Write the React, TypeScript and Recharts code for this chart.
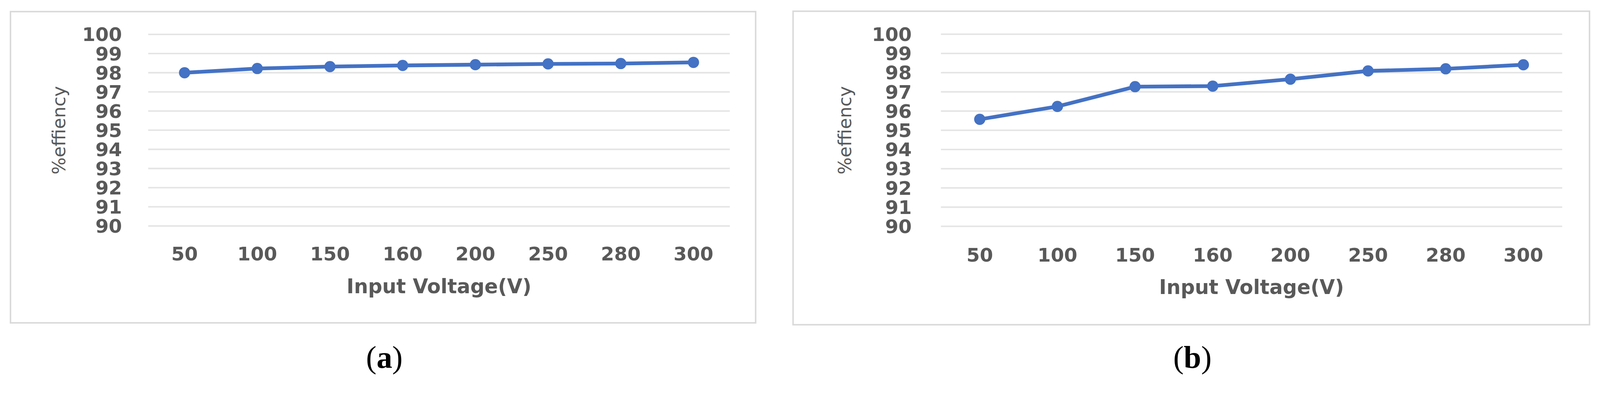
import { CartesianGrid, Line, LineChart, XAxis, YAxis } from "recharts";

const voltages = ["50", "100", "150", "160", "200", "250", "280", "300"];
const effA = [98.0, 98.22, 98.32, 98.38, 98.42, 98.46, 98.48, 98.54];
const effB = [95.57, 96.24, 97.27, 97.3, 97.66, 98.09, 98.2, 98.41];
const yTicks = [90, 91, 92, 93, 94, 95, 96, 97, 98, 99, 100];

const GREY = "#595959";
const BLUE = "#4472c4";

// the page is laid out in 4275px-wide figure coordinates, then fitted to the viewport
const FIG_W = 4275;
const FIG_H = 1027;

interface IPanel {
    left: number;
    top: number;
    width: number;
    height: number;
    plotLeft: number;
    plotRight: number;
    plotTop: number;
    plotBottom: number;
    yTickGap: number;
    xTickGap: number;
    yLabelX: number;
    titleOffset: number;
}

function EffPanel({values, p}: {values: number[]; p: IPanel}) {
    const data = voltages.map((v, i) => ({v, eff: values[i]}));
    const plotW = p.width - p.plotLeft - p.plotRight;
    const pad = plotW / voltages.length / 2;

    return (
        <div style={{position: "absolute", left: p.left, top: p.top, width: p.width, height: p.height}}>
            <LineChart
                width={p.width}
                height={p.height}
                data={data}
                margin={{top: p.plotTop, right: p.plotRight, left: 0, bottom: 0}}
            >
                <CartesianGrid vertical={false} stroke="#e4e4e4" strokeWidth={4} />
                <XAxis
                    dataKey="v"
                    type="category"
                    interval={0}
                    padding={{left: pad, right: pad}}
                    height={p.height - p.plotBottom}
                    axisLine={false}
                    tickLine={false}
                    tickSize={0}
                    tickMargin={p.xTickGap}
                    tick={{fill: GREY, fontSize: 51, fontWeight: "bold", fontFamily: "DejaVu Sans"}}
                    label={{
                        value: "Input Voltage(V)",
                        position: "insideBottom",
                        offset: p.titleOffset,
                        style: {fill: GREY, fontSize: 53, fontWeight: "bold", fontFamily: "DejaVu Sans"},
                    }}
                />
                <YAxis
                    type="number"
                    domain={[90, 100]}
                    ticks={yTicks}
                    interval={0}
                    width={p.plotLeft}
                    axisLine={false}
                    tickLine={false}
                    tickSize={0}
                    tickMargin={p.yTickGap}
                    tick={{fill: GREY, fontSize: 51, fontWeight: "bold", fontFamily: "DejaVu Sans"}}
                    label={{
                        value: "%effiency",
                        angle: -90,
                        position: "insideLeft",
                        offset: p.yLabelX,
                        style: {textAnchor: "middle", fill: GREY, fontSize: 48, fontFamily: "DejaVu Sans"},
                    }}
                />
                <Line
                    type="linear"
                    dataKey="eff"
                    stroke={BLUE}
                    strokeWidth={10}
                    dot={{r: 15, fill: BLUE, stroke: BLUE, strokeWidth: 0}}
                    activeDot={false}
                    isAnimationActive={false}
                />
            </LineChart>
            <div
                style={{
                    position: "absolute",
                    left: 0,
                    top: 0,
                    width: p.width,
                    height: p.height,
                    boxSizing: "border-box",
                    border: "4px solid #d9d9d9",
                    pointerEvents: "none",
                }}
            />
        </div>
    );
}

function Caption({letter, x}: {letter: string; x: number}) {
    return (
        <div
            style={{
                position: "absolute",
                left: x - 100,
                top: 905,
                width: 200,
                textAlign: "center",
                fontFamily: "Liberation Serif",
                fontSize: 84,
                lineHeight: "100px",
                color: "#000",
            }}
        >
            (<b>{letter}</b>)
        </div>
    );
}

const panelA: IPanel = {
    left: 26, top: 29, width: 1995, height: 836,
    plotLeft: 370, plotRight: 71, plotTop: 63, plotBottom: 575,
    yTickGap: 70, xTickGap: 56, yLabelX: 131, titleOffset: 81,
};

const panelB: IPanel = {
    left: 2117, top: 28, width: 2132, height: 842,
    plotLeft: 397, plotRight: 75, plotTop: 63.5, plotBottom: 577,
    yTickGap: 78, xTickGap: 58, yLabelX: 140, titleOffset: 84,
};

export default function App() {
    const vw = typeof window !== "undefined" && window.innerWidth ? window.innerWidth : FIG_W;
    const s = vw / FIG_W;

    return (
        <div
            style={{
                position: "absolute",
                left: 0,
                top: 0,
                width: FIG_W,
                height: FIG_H,
                background: "#fff",
                transform: `scale(${s})`,
                transformOrigin: "0 0",
            }}
        >
            <EffPanel values={effA} p={panelA} />
            <EffPanel values={effB} p={panelB} />
            <Caption letter="a" x={1027} />
            <Caption letter="b" x={3186} />
        </div>
    );
}
